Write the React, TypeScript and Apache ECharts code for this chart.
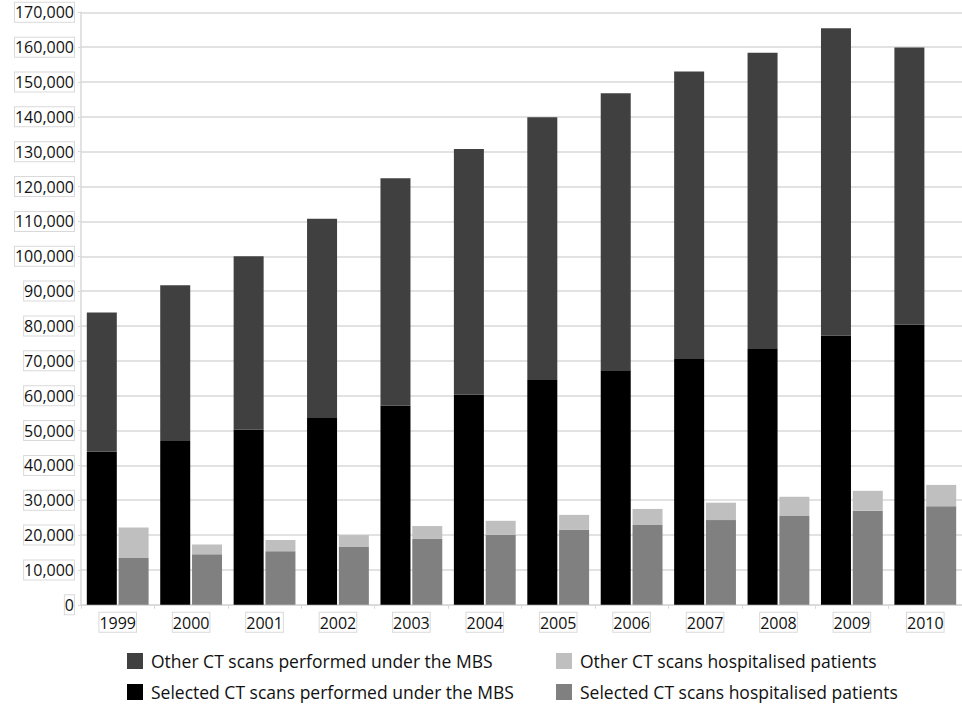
import React, { useEffect, useRef } from "react";
import * as echarts from "echarts";

// Years on the category axis
const years = ["1999", "2000", "2001", "2002", "2003", "2004", "2005", "2006", "2007", "2008", "2009", "2010"];

// CT scans performed under the MBS (stacked)
const selectedMbs = [43900, 47000, 50300, 53800, 57100, 60300, 64500, 67300, 70500, 73400, 77200, 80400];
const otherMbs = [40000, 44700, 49700, 57000, 65300, 70500, 75400, 79500, 82500, 85000, 88200, 79500];

// CT scans for hospitalised patients (stacked)
const selectedHosp = [13400, 14500, 15400, 16700, 18900, 20100, 21500, 22900, 24300, 25600, 27000, 28300];
const otherHosp = [8800, 2800, 3200, 3300, 3700, 4000, 4300, 4600, 5000, 5400, 5700, 6100];

const NAME_OTHER_MBS = "Other CT scans performed under the MBS";
const NAME_SEL_MBS = "Selected CT scans performed under the MBS";
const NAME_OTHER_HOSP = "Other CT scans hospitalised patients";
const NAME_SEL_HOSP = "Selected CT scans hospitalised patients";

const FONT = "'Open Sans', 'Noto Sans', sans-serif";
const GRID_GREY = "#d9d9d9";
const TEXT = "#111111";

export default function App() {
  const ref = useRef<HTMLDivElement>(null);

  useEffect(() => {
    if (!ref.current) return;
    const chart = echarts.init(ref.current, undefined, { renderer: "svg" });

    const boxedLabel = {
      color: TEXT,
      fontFamily: FONT,
      fontSize: 16,
      backgroundColor: "#fff",
      borderColor: GRID_GREY,
      borderWidth: 1,
      padding: [1, 0, 0, 0],
      lineHeight: 18,
    };

    const legendCommon = {
      orient: "vertical" as const,
      icon: "rect",
      itemWidth: 16,
      itemHeight: 16,
      itemGap: 13,
      padding: 0,
      height: 60,
      selectedMode: false,
      textStyle: {
        color: TEXT,
        fontFamily: FONT,
        fontSize: 17.5,
        lineHeight: 16,
        padding: [0, 0, 0, 3],
      },
    };

    chart.setOption({
      animation: false,
      backgroundColor: "#fff",
      grid: { left: 81, right: -22, top: 12.3, bottom: 99.2, containLabel: false },
      legend: [
        { ...legendCommon, left: 127, top: 652, data: [NAME_OTHER_MBS, NAME_SEL_MBS] },
        { ...legendCommon, left: 556, top: 652, data: [NAME_OTHER_HOSP, NAME_SEL_HOSP] },
      ],
      xAxis: {
        type: "category",
        data: years,
        axisLine: { lineStyle: { color: GRID_GREY, width: 1.5 } },
        axisTick: { show: true, length: 4, lineStyle: { color: GRID_GREY } },
        axisLabel: { ...boxedLabel, margin: 8 },
        splitLine: { show: false },
      },
      yAxis: {
        type: "value",
        min: 0,
        max: 170000,
        interval: 10000,
        axisLine: { show: true, lineStyle: { color: GRID_GREY, width: 1.5 } },
        axisTick: { show: true, length: 3, lineStyle: { color: GRID_GREY } },
        axisLabel: {
          ...boxedLabel,
          margin: 7,
          formatter: (v: number) => v.toLocaleString("en-US"),
        },
        splitLine: { show: true, lineStyle: { color: GRID_GREY, width: 1.5 } },
      },
      series: [
        {
          name: NAME_SEL_MBS,
          type: "bar",
          stack: "mbs",
          data: selectedMbs,
          barWidth: 30,
          barGap: "6%",
          itemStyle: { color: "#000000" },
        },
        {
          name: NAME_OTHER_MBS,
          type: "bar",
          stack: "mbs",
          data: otherMbs,
          barWidth: 30,
          barGap: "6%",
          itemStyle: { color: "#404040" },
        },
        {
          name: NAME_SEL_HOSP,
          type: "bar",
          stack: "hosp",
          data: selectedHosp,
          barWidth: 30,
          barGap: "6%",
          itemStyle: { color: "#808080" },
        },
        {
          name: NAME_OTHER_HOSP,
          type: "bar",
          stack: "hosp",
          data: otherHosp,
          barWidth: 30,
          barGap: "6%",
          itemStyle: { color: "#bfbfbf" },
        },
      ],
    });

    return () => chart.dispose();
  }, []);

  return (
    <div
      ref={ref}
      style={{ position: "fixed", left: 0, top: 0, width: 962, height: 704, background: "#fff" }}
    />
  );
}
